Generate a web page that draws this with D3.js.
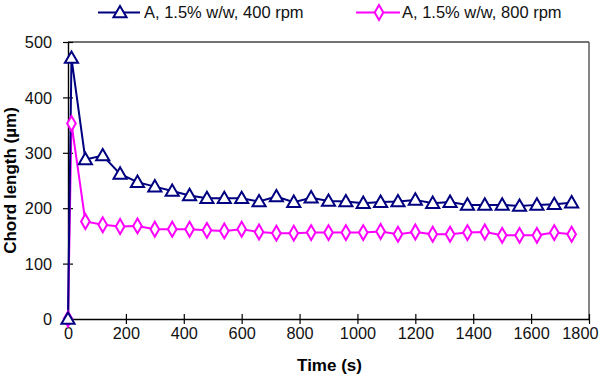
<!DOCTYPE html>
<html><head><meta charset="utf-8">
<script src="https://cdn.jsdelivr.net/npm/d3@7"></script>
<style>body{margin:0;background:#fff}svg{display:block}text{font-family:"Liberation Sans",Arial,sans-serif}</style>
</head><body>
<svg id="c" width="600" height="378"></svg>
<script>
const times = [0,12,60,120,180,240,300,360,420,480,540,600,660,720,780,840,900,960,1020,1080,1140,1200,1260,1320,1380,1440,1500,1560,1620,1680,1740];
const rpm400 = [0,471,288,295,262,247,239,231,223,218,218,218,212,221,211,219,213,212,209,211,212,215,209,211,206,206,206,204,206,207,210];
const rpm800 = [0,353,176,170,167,168,162,162,162,160,159,162,157,155,155,156,156,156,156,158,153,157,153,153,156,157,151,151,151,156,153];
const xTicks = [0,200,400,600,800,1000,1200,1400,1600,1800];
const yTicks = [0,100,200,300,400,500];
const seriesNames = ["A, 1.5% w/w, 400 rpm","A, 1.5% w/w, 800 rpm"];
const colors = ["#000080","#ff00ff"];

const svg = d3.select("#c");
const L=68,R=589,T=42,B=319;
const x = d3.scaleLinear().domain([0,1800]).range([L,R]);
const y = d3.scaleLinear().domain([0,500]).range([B,T]);

// frame
svg.append("line").attr("x1",L).attr("x2",R).attr("y1",T).attr("y2",T).attr("stroke","#444").attr("stroke-width",1.3);
svg.append("line").attr("x1",R).attr("x2",R).attr("y1",T).attr("y2",B).attr("stroke","#444").attr("stroke-width",1.3);

const xa = svg.append("g").attr("transform",`translate(0,${B})`)
  .call(d3.axisBottom(x).tickValues(xTicks).tickFormat(d3.format("d")).tickSize(5).tickSizeOuter(0).tickPadding(12));
xa.selectAll(".tick line").attr("y1",-5);
const ya = svg.append("g").attr("transform",`translate(${L},0)`)
  .call(d3.axisLeft(y).tickValues(yTicks).tickFormat(d3.format("d")).tickSize(5).tickSizeOuter(0).tickPadding(11));
ya.selectAll(".tick line").attr("x1",5);
[xa,ya].forEach(a=>{
  a.select(".domain").attr("stroke","#000").attr("stroke-width",1.4);
  a.selectAll(".tick line").attr("stroke","#000").attr("stroke-width",1.2);
  a.selectAll("text").attr("font-size",16.3).attr("fill","#111").attr("font-family","'Liberation Sans',Arial,sans-serif");
});
xa.selectAll("text").attr("dy","0.2em");
xa.selectAll(".tick text").filter(d=>d===1800).attr("text-anchor","end").attr("x",9);
ya.selectAll("text").attr("dy","0.35em");

svg.append("text").attr("x",329.5).attr("y",371).attr("text-anchor","middle")
  .attr("font-size",17).attr("font-weight","bold").text("Time (s)");
svg.append("text").attr("transform","translate(16,180.5) rotate(-90)").attr("text-anchor","middle")
  .attr("font-size",17).attr("font-weight","bold").text("Chord length (µm)");

const tri = d3.symbol().type(d3.symbolTriangle).size(75);
const dia = d3.symbol().type(d3.symbolDiamond).size(64);
const line = d3.line().x((d,i)=>x(times[i])).y(d=>y(d));
const data=[rpm400,rpm800], syms=[tri,dia];

[1,0].forEach(k=>{
  svg.append("path").datum(data[k]).attr("d",line).attr("fill","none").attr("stroke",colors[k]).attr("stroke-width",2);
});
[1,0].forEach(k=>{
  svg.append("g").selectAll("path").data(data[k]).join("path")
    .attr("transform",(d,i)=>`translate(${x(times[i])},${y(d)+(k===0?1:0)})`)
    .attr("d",syms[k]).attr("fill","#fff").attr("stroke",colors[k]).attr("stroke-width",2);
});

// legend
const lg = [{x1:98,x2:140,mx:120,tx:144},{x1:356,x2:400,mx:379,tx:402}];
lg.forEach((p,k)=>{
  svg.append("line").attr("x1",p.x1).attr("x2",p.x2).attr("y1",12.5).attr("y2",12.5).attr("stroke",colors[k]).attr("stroke-width",2);
  svg.append("path").attr("transform",`translate(${p.mx},${12.5+(k===0?1:0)})`).attr("d",syms[k]).attr("fill","#fff").attr("stroke",colors[k]).attr("stroke-width",2);
  svg.append("text").attr("x",p.tx).attr("y",12.5).attr("dy","0.35em").attr("font-size",16.5).attr("fill","#111").text(seriesNames[k]);
});
</script>
</body></html>
